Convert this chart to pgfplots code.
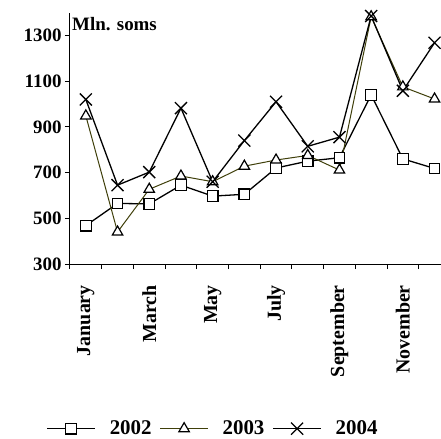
\documentclass[border=0pt]{standalone}
\usepackage{pgfplots}
\pgfplotsset{compat=1.18}
\usepackage{fontspec}
\setmainfont{Liberation Serif}
\definecolor{olive3}{HTML}{3F3F0A}
\tikzset{mlab/.style={rotate=90, anchor=east, inner sep=0pt, font=\fontsize{20}{22}\selectfont\bfseries}}
\begin{document}
\begin{tikzpicture}
\begin{axis}[
  at={(0bp,0bp)}, anchor=south west,
  scale only axis,
  width=380.4bp, height=251.4bp,
  xmin=0.5, xmax=12.5, ymin=300, ymax=1400,
  clip=false,
  axis x line*=bottom, axis y line*=left,
  axis line style={black, line width=1bp},
  xtick={0.5,1.5,2.5,3.5,4.5,5.5,6.5,7.5,8.5,9.5,10.5,11.5,12.5},
  xticklabels={},
  ytick={300,500,700,900,1100,1300},
  tick style={black, line width=1bp},
  tick align=outside,
  major tick length=5bp,
  /pgf/number format/.cd, 1000 sep={}, assume math mode=true, /pgfplots/.cd,
  yticklabel style={font=\fontsize{19}{21}\selectfont\bfseries},
  legend style={at={(0.376,-0.655)}, anchor=center, draw=none, fill=none, inner sep=0pt,
    legend columns=3, font=\fontsize{21}{23}\selectfont\bfseries,
    /tikz/every even column/.append style={column sep=6bp},
    /tikz/every odd column/.append style={column sep=12bp}},
  legend image code/.code={\draw[#1, mark repeat=2, mark phase=2] plot coordinates {(0bp,0bp) (24bp,0bp) (48bp,0bp)};},
]
\addplot[black, line width=1.3bp, mark=square*, mark size=5.3bp, mark options={fill=white, line width=1.2bp}]
  coordinates {(1,468) (2,565) (3,563) (4,645) (5,597) (6,605) (7,720) (8,750) (9,765) (10,1040) (11,760) (12,718)};
\addlegendentry{2002}
\addplot[olive3, line width=1bp, mark=triangle*, mark size=6bp, mark options={fill=white, draw=black, line width=1.2bp}]
  coordinates {(1,948) (2,440) (3,627) (4,685) (5,660) (6,728) (7,755) (8,775) (9,711) (10,1382) (11,1075) (12,1022)};
\addlegendentry{2003}
\addplot[black, line width=1.3bp, mark=x, mark size=8.5bp, mark options={line width=1.3bp}]
  coordinates {(1,1020) (2,645) (3,702) (4,982) (5,660) (6,840) (7,1010) (8,815) (9,855) (10,1385) (11,1058) (12,1268)};
\addlegendentry{2004}
\node[anchor=north west, inner sep=0pt, font=\fontsize{19}{21}\selectfont\bfseries] at ([shift={(2bp,-5bp)}]rel axis cs:0,1) {Mln. soms};
\node[mlab] at ([yshift=-21bp]axis cs:1,300) {January};
\node[mlab] at ([yshift=-21bp]axis cs:3,300) {March};
\node[mlab] at ([yshift=-21bp]axis cs:5,300) {May};
\node[mlab] at ([yshift=-21bp]axis cs:7,300) {July};
\node[mlab] at ([yshift=-21bp]axis cs:9,300) {September};
\node[mlab] at ([yshift=-21bp]axis cs:11,300) {November};
\end{axis}
\pgfresetboundingbox
\path[use as bounding box] (-70bp,-175bp) rectangle (371bp,264bp);
\end{tikzpicture}
\end{document}
